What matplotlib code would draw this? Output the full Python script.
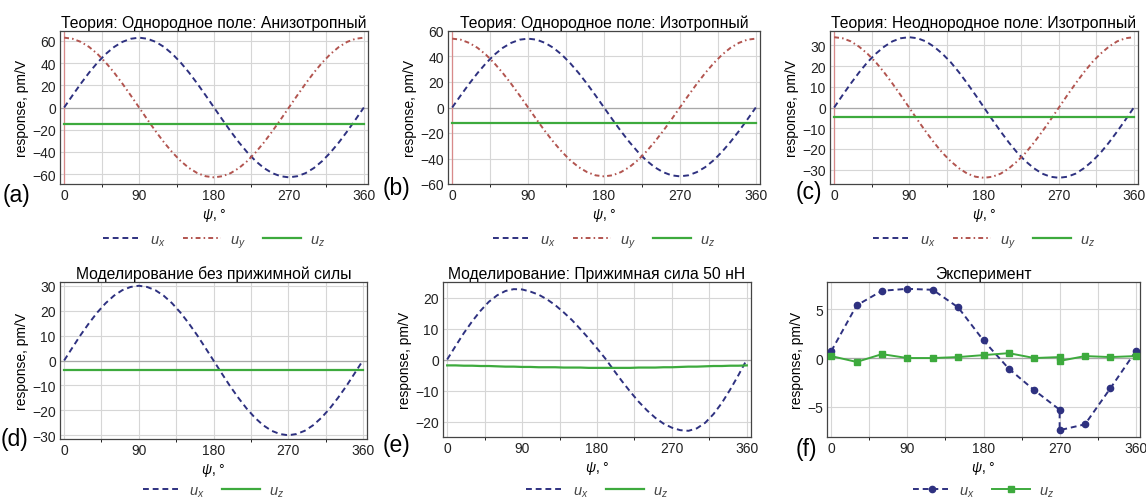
import matplotlib
matplotlib.use("Agg")
import matplotlib.pyplot as plt

plt.rcParams["font.family"] = ["Liberation Sans", "DejaVu Sans"]
plt.rcParams["mathtext.fontset"] = "custom"
plt.rcParams["mathtext.it"] = "Liberation Sans:italic"
plt.rcParams["mathtext.rm"] = "Liberation Sans"

# ---------------------------------------------------------------------------
# Data
# ---------------------------------------------------------------------------
psi = [0, 10, 20, 30, 40, 50, 60, 70, 80, 90, 100, 110, 120, 130, 140, 150, 160, 170, 180,
       190, 200, 210, 220, 230, 240, 250, 260, 270, 280, 290, 300, 310, 320, 330, 340, 350, 360]

# (a) theory, uniform field, anisotropic
a_ux = [0, 10.9, 21.5, 31.5, 40.5, 48.3, 54.6, 59.2, 62.0, 63.0, 62.0, 59.2, 54.6, 48.3, 40.5, 31.5, 21.5, 10.9, 0,
        -10.9, -21.5, -31.5, -40.5, -48.3, -54.6, -59.2, -62.0, -63.0, -62.0, -59.2, -54.6, -48.3, -40.5, -31.5, -21.5, -10.9, 0]
a_uy = [63.0, 62.0, 59.2, 54.6, 48.3, 40.5, 31.5, 21.5, 10.9, 0, -10.9, -21.5, -31.5, -40.5, -48.3, -54.6, -59.2, -62.0, -63.0,
        -62.0, -59.2, -54.6, -48.3, -40.5, -31.5, -21.5, -10.9, 0, 10.9, 21.5, 31.5, 40.5, 48.3, 54.6, 59.2, 62.0, 63.0]
a_uz = [-14.5] * 37

# (b) theory, uniform field, isotropic
b_ux = [0, 9.4, 18.5, 27.0, 34.7, 41.4, 46.8, 50.7, 53.2, 54.0, 53.2, 50.7, 46.8, 41.4, 34.7, 27.0, 18.5, 9.4, 0,
        -9.4, -18.5, -27.0, -34.7, -41.4, -46.8, -50.7, -53.2, -54.0, -53.2, -50.7, -46.8, -41.4, -34.7, -27.0, -18.5, -9.4, 0]
b_uy = [54.0, 53.2, 50.7, 46.8, 41.4, 34.7, 27.0, 18.5, 9.4, 0, -9.4, -18.5, -27.0, -34.7, -41.4, -46.8, -50.7, -53.2, -54.0,
        -53.2, -50.7, -46.8, -41.4, -34.7, -27.0, -18.5, -9.4, 0, 9.4, 18.5, 27.0, 34.7, 41.4, 46.8, 50.7, 53.2, 54.0]
b_uz = [-12.0] * 37

# (c) theory, non-uniform field, isotropic
c_ux = [0, 5.9, 11.6, 17.0, 21.9, 26.0, 29.4, 32.0, 33.5, 34.0, 33.5, 32.0, 29.4, 26.0, 21.9, 17.0, 11.6, 5.9, 0,
        -5.9, -11.6, -17.0, -21.9, -26.0, -29.4, -32.0, -33.5, -34.0, -33.5, -32.0, -29.4, -26.0, -21.9, -17.0, -11.6, -5.9, 0]
c_uy = [34.0, 33.5, 32.0, 29.4, 26.0, 21.9, 17.0, 11.6, 5.9, 0, -5.9, -11.6, -17.0, -21.9, -26.0, -29.4, -32.0, -33.5, -34.0,
        -33.5, -32.0, -29.4, -26.0, -21.9, -17.0, -11.6, -5.9, 0, 5.9, 11.6, 17.0, 21.9, 26.0, 29.4, 32.0, 33.5, 34.0]
c_uz = [-4.5] * 37

# (d) simulation without clamping force
d_ux = [0, 5.2, 10.3, 15.0, 19.3, 23.0, 26.0, 28.2, 29.5, 30.0, 29.5, 28.2, 26.0, 23.0, 19.3, 15.0, 10.3, 5.2, 0,
        -5.2, -10.3, -15.0, -19.3, -23.0, -26.0, -28.2, -29.5, -30.0, -29.5, -28.2, -26.0, -23.0, -19.3, -15.0, -10.3, -5.2, 0]
d_uz = [-4.0] * 37

# (e) simulation, clamping force 50 nN
e_ux = [0, 4.3, 8.5, 12.3, 15.7, 18.6, 20.7, 22.1, 22.7, 22.6, 21.9, 20.9, 19.4, 17.5, 15.2, 12.7, 9.8, 6.8, 3.6,
        0.3, -3.4, -7.0, -10.4, -13.6, -16.4, -18.8, -20.7, -22.0, -22.8, -23.0, -22.2, -20.4, -17.6, -14.0, -9.7, -5.0, 0]
e_uz = [-1.9, -1.9, -2.0, -2.0, -2.1, -2.1, -2.2, -2.3, -2.3, -2.4, -2.4, -2.5, -2.5, -2.5, -2.6, -2.6, -2.6, -2.7, -2.7,
        -2.7, -2.7, -2.7, -2.7, -2.6, -2.6, -2.6, -2.5, -2.5, -2.4, -2.3, -2.3, -2.2, -2.1, -2.1, -2.0, -2.0, -1.9]

# (f) experiment
f_psi = [0, 30, 60, 90, 120, 150, 180, 210, 240, 270, 270, 300, 330, 360]
f_ux = [0.7, 5.4, 6.9, 7.1, 7.0, 5.2, 1.8, -1.1, -3.3, -5.3, -7.4, -6.8, -3.1, 0.7]
f_uz = [0.2, -0.4, 0.4, 0.0, 0.0, 0.1, 0.3, 0.5, 0.0, 0.1, -0.3, 0.2, 0.1, 0.2]

C_UX = "#2e3180"
C_UY = "#b2544f"
C_UZ = "#3daa3d"
LS_UX = (0, (3, 2))
LS_UY = (0, (2.5, 1.6, 0.8, 1.6))
W, H = 1146, 502


def add_ax(fig, left, right, top, bottom):
    ax = fig.add_axes([left / W, 1 - bottom / H, (right - left) / W, (bottom - top) / H])
    ax._px = (top, bottom)
    return ax


def style(ax, ylim, yticks, title, tag, tag_xy, legend_y, red_axis=True):
    ax.set_xlim(-5, 365)
    ax.set_ylim(*ylim)
    ax.set_xticks([0, 90, 180, 270, 360])
    ax.set_xticks(range(0, 361, 45), minor=True)
    ax.set_yticks(yticks)
    ax.grid(True, which="both", color="#d6d6d6", lw=0.8)
    ax.set_axisbelow(True)
    ax.axhline(0, color="#a8a8a8", lw=0.9, zorder=1)
    if red_axis:
        ax.axvline(0, color="#d98a8a", lw=0.9, zorder=1)
    ax.tick_params(length=0, labelsize=10, colors="#222222", pad=3)
    for s in ax.spines.values():
        s.set_color("#444444")
        s.set_linewidth(0.9)
    ax.set_ylabel("response, pm/V", fontsize=10, labelpad=2)
    ax.set_xlabel(r"$\psi$, °", fontsize=10, labelpad=3)
    ax.set_title(title, fontsize=11.3, pad=3)
    ax.figure.text(tag_xy[0] / W, 1 - tag_xy[1] / H, tag, fontsize=16.5, ha="left", va="center")
    top, bottom = ax._px
    yfrac = -(legend_y - bottom) / (bottom - top)
    ax.legend(loc="center", bbox_to_anchor=(0.5, yfrac), ncol=3, frameon=False,
              fontsize=10.5, handlelength=2.6, columnspacing=1.2, handletextpad=0.6,
              labelcolor="#444444", borderaxespad=0, borderpad=0)


fig = plt.figure(figsize=(W / 100, H / 100), dpi=100)

panels = [
    ((60, 368, 32, 185), a_ux, a_uy, a_uz, (-69, 69), range(-60, 61, 20),
     "Теория: Однородное поле: Анизотропный", "(a)", (3, 196)),
    ((448, 760, 32, 185), b_ux, b_uy, b_uz, (-60, 60), range(-60, 61, 20),
     "Теория: Однородное поле: Изотропный", "(b)", (383, 188)),
    ((830, 1138, 32, 185), c_ux, c_uy, c_uz, (-37, 37), range(-30, 31, 10),
     "Теория: Неоднородное поле: Изотропный", "(c)", (796, 193)),
]
for pos, ux, uy, uz, ylim, yt, title, tag, txy in panels:
    ax = add_ax(fig, *pos)
    ax.plot(psi, ux, color=C_UX, lw=1.4, ls=LS_UX, label=r"$u_x$", zorder=3)
    ax.plot(psi, uy, color=C_UY, lw=1.4, ls=LS_UY, label=r"$u_y$", zorder=3)
    ax.plot(psi, uz, color=C_UZ, lw=1.6, label=r"$u_z$", zorder=3)
    style(ax, ylim, yt, title, tag, txy, 242)

# (d)
ax = add_ax(fig, 60, 367, 283, 440)
ax.plot(psi, d_ux, color=C_UX, lw=1.4, ls=LS_UX, label=r"$u_x$", zorder=3)
ax.plot(psi, d_uz, color=C_UZ, lw=1.6, label=r"$u_z$", zorder=3)
style(ax, (-31.5, 31.5), range(-30, 31, 10), "Моделирование без прижимной силы", "(d)", (1, 440),
      492, red_axis=False)

# (e)
ax = add_ax(fig, 443, 751, 283, 438)
ax.plot(psi, e_ux, color=C_UX, lw=1.4, ls=LS_UX, label=r"$u_x$", zorder=3)
ax.plot(psi, e_uz, color=C_UZ, lw=1.6, label=r"$u_z$", zorder=3)
style(ax, (-25, 25), range(-20, 21, 10), "Моделирование: Прижимная сила 50 нН", "(e)", (383, 446),
      492, red_axis=False)

# (f)
ax = add_ax(fig, 827, 1140, 283, 438)
ax.plot(f_psi, f_ux, color=C_UX, lw=1.4, ls=LS_UX, marker="o", ms=4.5, label=r"$u_x$", zorder=3)
ax.plot(f_psi, f_uz, color=C_UZ, lw=1.4, marker="s", ms=4.5, label=r"$u_z$", zorder=3)
style(ax, (-8.1, 7.8), [-5, 0, 5], "Эксперимент", "(f)", (796, 450), 492, red_axis=False)

fig.savefig("out.png", dpi=100)
